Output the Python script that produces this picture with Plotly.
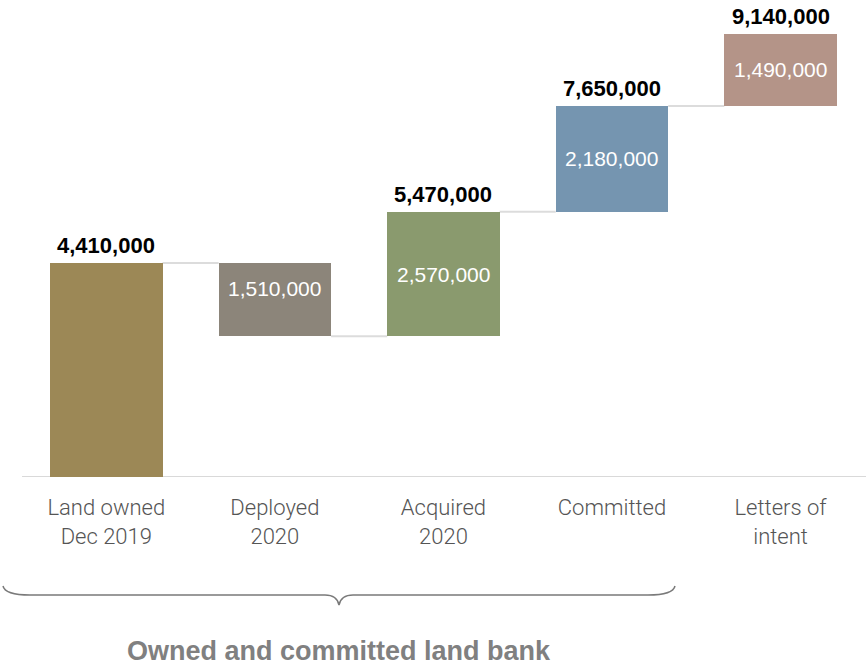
import plotly.graph_objects as go

# Land bank movements (sqm)
categories = ["Land owned<br>Dec 2019", "Deployed<br>2020", "Acquired<br>2020",
              "Committed", "Letters of<br>intent"]
changes = [4410000, -1510000, 2570000, 2180000, 1490000]
running_totals = [4410000, None, 5470000, 7650000, 9140000]
colors = ["#9C8856", "#8C857A", "#8A9A6E", "#7595B0", "#B49488"]
group_label = "Owned and committed land bank"

W, H = 866, 668
PLOT_BOTTOM = 477          # pixel row of the zero line
Y_MAX = 9835000
BAR_W = 0.667

# bar bases / tops from the cumulative sums
bases, tops, ends = [], [], []
level = 0
for c in changes:
    start = level
    level = level + c
    bases.append(min(start, level))
    tops.append(max(start, level))
    ends.append(level)

xs = list(range(len(categories)))

fig = go.Figure()
fig.add_trace(go.Bar(
    x=xs,
    y=[abs(c) for c in changes],
    base=bases,
    width=BAR_W,
    marker=dict(color=colors, line=dict(width=0)),
    hoverinfo="skip",
))


def py(pix):
    """pixel row -> paper y"""
    return (PLOT_BOTTOM - pix) / PLOT_BOTTOM


def px(pix):
    return pix / W


shapes = []
# connectors between bars
for i in range(len(changes) - 1):
    shapes.append(dict(type="line", xref="x", yref="y",
                       x0=i + BAR_W / 2, x1=i + 1 - BAR_W / 2,
                       y0=ends[i], y1=ends[i],
                       line=dict(color="#DCDCDC", width=2), layer="below"))
# baseline
shapes.append(dict(type="line", xref="x", yref="y", x0=-0.5, x1=4.6, y0=0, y1=0,
                   line=dict(color="#D9D9D9", width=2), layer="below"))

# curly brace under the first four categories
pts = [(3, 586), (15, 595), (325, 595), (339, 605), (353, 595), (663, 595), (675, 586)]
(x0, y0), (x1, y1), (x2, y2), (x3, y3), (x4, y4), (x5, y5), (x6, y6) = pts
path = (f"M {px(x0)},{py(y0)} Q {px(x0 + 2)},{py(y1)} {px(x1 + 15)},{py(y1)} "
        f"L {px(x2)},{py(y2)} Q {px(x3 - 2)},{py(y2)} {px(x3)},{py(y3)} "
        f"Q {px(x3 + 2)},{py(y4)} {px(x4)},{py(y4)} "
        f"L {px(x5 - 15)},{py(y5)} Q {px(x6 - 2)},{py(y5)} {px(x6)},{py(y6)}")
shapes.append(dict(type="path", xref="paper", yref="paper", path=path,
                   line=dict(color="#7A7A7A", width=1.5)))

annotations = []
# running totals above bars
for i, t in enumerate(running_totals):
    if t is None:
        continue
    annotations.append(dict(x=i, y=tops[i], xref="x", yref="y", text=f"{t:,}",
                            showarrow=False, yanchor="middle", yshift=17.5,
                            font=dict(family="Liberation Sans, Arial", size=22,
                                      color="#000000", weight="bold")))
# step values inside bars
for i, c in enumerate(changes):
    if i == 0:
        continue
    shift = 11 if c < 0 else 0
    annotations.append(dict(x=i, y=(bases[i] + tops[i]) / 2, xref="x", yref="y",
                            text=f"{abs(c):,}", showarrow=False, yanchor="middle",
                            yshift=shift,
                            font=dict(family="Liberation Sans, Arial", size=21,
                                      color="#FFFFFF")))
annotations.append(dict(x=px(339), y=py(651), xref="paper", yref="paper",
                        text=group_label, showarrow=False, yanchor="middle",
                        font=dict(family="Liberation Sans, Arial", size=27,
                                  color="#808080", weight="bold")))

fig.update_layout(
    width=W, height=H,
    margin=dict(l=0, r=0, t=0, b=H - PLOT_BOTTOM, pad=0),
    paper_bgcolor="white", plot_bgcolor="white",
    showlegend=False,
    bargap=0,
    shapes=shapes,
    annotations=annotations,
    xaxis=dict(range=[-0.6307, 4.507], tickmode="array", tickvals=xs,
               ticktext=categories, showgrid=False, zeroline=False,
               showline=False, ticks="", ticklabelstandoff=15,
               tickfont=dict(family="Roboto, Liberation Sans", size=22,
                             color="#555555", weight=300),
               fixedrange=True),
    yaxis=dict(range=[0, Y_MAX], visible=False, showgrid=False,
               zeroline=False, fixedrange=True),
)

fig.write_html("out.html")
